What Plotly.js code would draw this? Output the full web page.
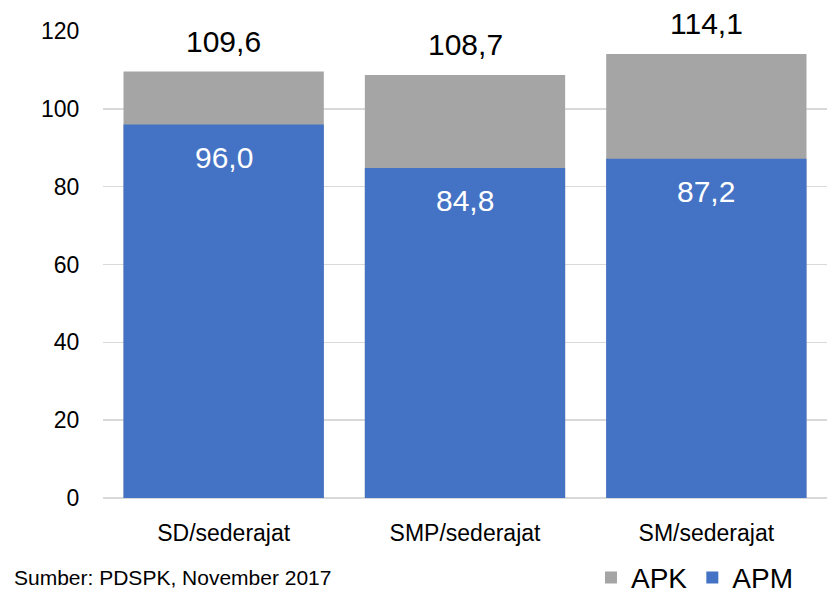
<!DOCTYPE html>
<html>
<head>
<meta charset="utf-8">
<script src="https://cdn.plot.ly/plotly-3.0.1.min.js"></script>
<style>html,body{margin:0;padding:0;background:#fff;}#chart{width:827px;height:599px;}</style>
</head>
<body>
<div id="chart"></div>
<script>
var categories = ["SD/sederajat", "SMP/sederajat", "SM/sederajat"];
var apk = [109.6, 108.7, 114.1];
var apm = [96.0, 84.8, 87.2];
var apkLabels = ["109,6", "108,7", "114,1"];
var apmLabels = ["96,0", "84,8", "87,2"];
var yTicks = [0, 20, 40, 60, 80, 100, 120];

var FONT = "Liberation Sans, Arial, sans-serif";

var traces = [
  {type: "bar", name: "APK", x: categories, y: apk, marker: {color: "#a5a5a5"}, hoverinfo: "skip"},
  {type: "bar", name: "APM", x: categories, y: apm, marker: {color: "#4472c4"}, hoverinfo: "skip"}
];

var annotations = [];
for (var i = 0; i < categories.length; i++) {
  annotations.push({x: categories[i], y: apk[i], xref: "x", yref: "y", text: apkLabels[i], showarrow: false,
    yshift: 30, font: {family: FONT, size: 30, color: "#000"}});
  annotations.push({x: categories[i], y: apm[i], xref: "x", yref: "y", text: apmLabels[i], showarrow: false,
    yshift: -33, font: {family: FONT, size: 30, color: "#fff"}});
}
annotations.push({xref: "paper", yref: "paper", x: -0.1257, y: -0.171, xanchor: "left", yanchor: "middle",
  text: "Sumber: PDSPK, November 2017", showarrow: false, font: {family: FONT, size: 21, color: "#000"}});

var layout = {
  width: 827, height: 599,
  margin: {l: 103, r: 0, t: 31, b: 101, autoexpand: false},
  paper_bgcolor: "#fff", plot_bgcolor: "#fff",
  barmode: "overlay", bargap: 0.17,
  font: {family: FONT, color: "#000"},
  showlegend: true,
  legend: {orientation: "h", x: 0.674, y: -0.171, xanchor: "left", yanchor: "middle",
    font: {family: FONT, size: 28, color: "#000"}, itemwidth: 30, tracegroupgap: 0},
  xaxis: {showgrid: false, showline: false, zeroline: false, ticks: "outside", ticklen: 14, tickcolor: "rgba(0,0,0,0)",
    tickfont: {family: FONT, size: 23, color: "#000"}, fixedrange: true},
  yaxis: {range: [0, 120], tickvals: yTicks, ticktext: yTicks.map(String), showgrid: true, gridcolor: "#d9d9d9", gridwidth: 1.5,
    zeroline: true, zerolinecolor: "#d9d9d9", zerolinewidth: 1.5, showline: false,
    ticks: "outside", ticklen: 18, tickcolor: "rgba(0,0,0,0)", tickfont: {family: FONT, size: 23, color: "#000"}, fixedrange: true},
  annotations: annotations
};

Plotly.newPlot("chart", traces, layout, {displayModeBar: false, staticPlot: true});
</script>
</body>
</html>
